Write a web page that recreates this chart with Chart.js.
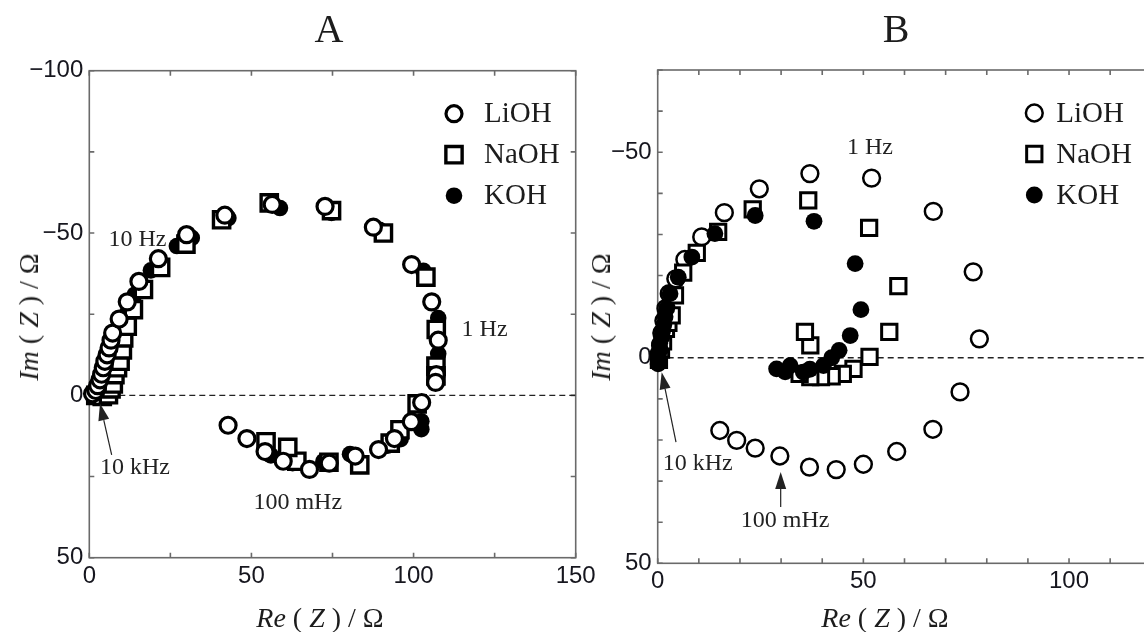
<!DOCTYPE html>
<html>
<head>
<meta charset="utf-8">
<script src="https://cdn.jsdelivr.net/npm/chart.js@4.4.0/dist/chart.umd.min.js"></script>
<style>
  html, body { margin: 0; padding: 0; background: #fff; }
  #wrap { position: relative; width: 1144px; height: 632px; overflow: hidden; background: #fff; }
  canvas { position: absolute; top: 0; }
  #chartA { left: 0; }
  #chartB { left: 590px; }
  .t { position: absolute; font-family: "Liberation Serif", serif; color: #1c1c1c; white-space: nowrap; line-height: 1; }
  .title { font-size: 40px; top: 9px; transform: translateX(-50%); }
  .xlab { font-size: 28px; top: 604px; transform: translateX(-50%); }
  .ylab { font-size: 28px; transform: translate(-50%, -50%) rotate(-90deg); }
</style>
</head>
<body>
<div id="wrap">
  <canvas id="chartA" width="600" height="632" style="width:600px;height:632px"></canvas>
  <canvas id="chartB" width="600" height="632" style="width:600px;height:632px"></canvas>
  <div class="t title" style="left:329px">A</div>
  <div class="t title" style="left:896px">B</div>
  <div class="t xlab" style="left:320px"><i>Re</i> ( <i>Z</i> ) / Ω</div>
  <div class="t xlab" style="left:885px"><i>Re</i> ( <i>Z</i> ) / Ω</div>
  <div class="t ylab" style="left:29px;top:317px"><i>Im</i> ( <i>Z</i> ) / Ω</div>
  <div class="t ylab" style="left:601px;top:317px"><i>Im</i> ( <i>Z</i> ) / Ω</div>
</div>
<script>
// series labels
const seriesNames = ['LiOH', 'NaOH', 'KOH'];

// panel A: Re(Z) / Im(Z) in ohm
const liohAx = [1.0, 2.0, 2.6, 3.3, 3.8, 4.3, 4.8, 5.5, 6.1, 6.7, 7.2, 9.2, 11.7, 15.3, 21.3, 30.0, 41.8, 56.4, 72.7, 87.6, 99.4, 105.6, 107.6, 107.0, 106.8, 102.5, 99.3, 94.1, 89.2, 82.0, 74.0, 67.9, 59.8, 54.2, 48.6, 42.8];
const liohAy = [-0.5, -1.5, -3.0, -4.8, -6.5, -8.5, -10.5, -12.5, -14.6, -17.0, -19.2, -23.5, -28.8, -35.1, -42.1, -49.5, -55.5, -58.8, -58.2, -51.8, -40.3, -28.8, -17.0, -6.4, -4.0, 2.2, 8.1, 13.3, 16.7, 18.7, 20.9, 22.8, 20.3, 17.3, 13.3, 9.2];
const naohAx = [2.0, 4.0, 5.9, 6.7, 7.4, 7.9, 8.7, 9.5, 10.2, 10.6, 11.7, 13.6, 16.7, 22.0, 29.8, 40.8, 55.5, 74.7, 90.7, 103.8, 107.0, 106.9, 106.9, 101.1, 95.8, 92.8, 83.4, 73.9, 64.0, 61.2, 54.5];
const naohAy = [0.0, 0.3, -0.2, -2.0, -3.5, -6.4, -8.5, -10.5, -14.0, -17.7, -21.3, -26.4, -32.6, -39.4, -46.6, -54.1, -59.3, -56.9, -50.0, -36.4, -20.3, -9.0, -6.0, 2.6, 10.6, 14.7, 21.4, 20.6, 20.3, 16.0, 14.3];
const kohAx = [1.5, 3.0, 4.0, 4.8, 5.5, 6.3, 7.2, 8.2, 9.5, 11.5, 14.0, 19.0, 27.0, 31.6, 42.9, 58.8, 74.7, 89.5, 103.0, 107.6, 107.6, 107.4, 102.4, 102.4, 96.0, 92.0, 80.4, 72.2, 62.7, 56.0];
const kohAy = [0.0, 0.0, -1.5, -3.5, -6.0, -9.0, -12.0, -15.5, -19.5, -25.0, -31.0, -38.5, -46.0, -48.5, -54.6, -57.7, -56.2, -51.0, -38.4, -23.8, -12.8, -7.0, 8.0, 10.4, 13.5, 15.5, 18.1, 20.3, 20.9, 18.5];

// panel B
const liohBx = [0.4, 0.7, 1.0, 1.5, 2.0, 2.8, 4.4, 6.6, 10.7, 16.2, 24.7, 37.0, 52.0, 67.0, 76.7, 78.2, 73.5, 66.9, 58.1, 50.0, 43.4, 36.9, 29.7, 23.7, 19.2, 15.1];
const liohBy = [-1.0, -3.0, -6.0, -9.0, -12.0, -15.6, -19.2, -23.9, -29.4, -35.3, -41.1, -44.8, -43.7, -35.6, -20.9, -4.6, 8.3, 17.4, 22.8, 25.9, 27.2, 26.6, 23.9, 22.0, 20.1, 17.7];
const naohBx = [0.3, 0.8, 1.3, 2.0, 2.6, 3.4, 4.2, 6.2, 9.5, 14.7, 23.1, 36.6, 51.4, 58.5, 56.3, 51.5, 47.6, 45.0, 42.3, 39.7, 37.1, 34.5, 37.1, 35.8];
const naohBy = [0.5, -2.0, -4.0, -7.0, -8.5, -10.3, -15.2, -20.7, -25.5, -30.6, -36.1, -38.3, -31.6, -17.4, -6.3, -0.2, 2.7, 3.9, 4.5, 4.7, 4.7, 3.9, -3.0, -6.3];
const kohBx = [0.1, 0.3, 0.5, 0.6, 1.0, 1.2, 1.5, 1.8, 2.2, 3.0, 5.0, 8.3, 13.9, 23.7, 38.0, 48.0, 49.4, 46.8, 44.1, 42.3, 40.3, 37.0, 35.4, 32.2, 28.9, 31.0];
const kohBy = [1.5, 0.0, -3.5, -2.0, -5.0, -6.5, -8.0, -10.0, -12.0, -15.6, -19.6, -24.5, -30.2, -34.6, -33.2, -22.9, -11.7, -5.4, -1.8, 0.0, 1.9, 2.8, 3.5, 1.9, 2.7, 3.4];

// axis ranges and tick steps
const rangeAx = [0, 150], rangeAy = [-100, 50], stepA = 25;
const rangeBx = [0, 120], rangeBy = [-70, 50], stepB = 10;
const labelEvery = 50;

// frequency notes (data coordinates)
const notesA = [
  { text: '10 Hz', x: 5.9, y: -48 },
  { text: '1 Hz', x: 114.8, y: -20.2 },
  { text: '10 kHz', x: 3.3, y: 22.4 },
  { text: '100 mHz', x: 50.6, y: 33.2 }
];
const arrowsA = [{ from: [6.9, 18.3], to: [3.3, 2.5] }];
const notesB = [
  { text: '1 Hz', x: 46, y: -51 },
  { text: '10 kHz', x: 1.2, y: 25.8 },
  { text: '100 mHz', x: 20.2, y: 39.6 }
];
const arrowsB = [
  { from: [4.45, 20.5], to: [0.97, 3.5] },
  { from: [29.9, 36.3], to: [29.9, 27.8] }
];

function zip(xs, ys) {
  return xs.map((v, i) => ({ x: v, y: ys[i] }));
}

function fmt(v) {
  if (v % labelEvery !== 0) return '';
  return v < 0 ? '\u2212' + (-v) : String(v);
}

function drawMarker(ctx, st, x, y) {
  ctx.save();
  ctx.fillStyle = st.backgroundColor;
  ctx.strokeStyle = st.borderColor;
  ctx.lineWidth = st.borderWidth;
  ctx.beginPath();
  if (st.pointStyle === 'rect') {
    const s = Math.SQRT1_2 * st.pointRadius;
    ctx.rect(x - s, y - s, 2 * s, 2 * s);
  } else {
    ctx.arc(x, y, st.pointRadius, 0, Math.PI * 2);
  }
  ctx.fill();
  if (st.borderWidth > 0) ctx.stroke();
  ctx.restore();
}

const frameAndNotes = {
  id: 'frameAndNotes',
  beforeDatasetsDraw(chart) {
    const { ctx, chartArea: a, scales: { x, y } } = chart;
    ctx.save();
    ctx.strokeStyle = '#6a6a6a';
    ctx.lineWidth = 1.6;
    ctx.strokeRect(a.left, a.top, a.right - a.left, a.bottom - a.top);
    const L = 5;
    ctx.beginPath();
    x.ticks.forEach(t => {
      const px = x.getPixelForValue(t.value);
      ctx.moveTo(px, a.bottom); ctx.lineTo(px, a.bottom - L);
      ctx.moveTo(px, a.top); ctx.lineTo(px, a.top + L);
    });
    y.ticks.forEach(t => {
      const py = y.getPixelForValue(t.value);
      ctx.moveTo(a.left, py); ctx.lineTo(a.left + L, py);
      ctx.moveTo(a.right, py); ctx.lineTo(a.right - L, py);
    });
    ctx.stroke();
    ctx.restore();
  },
  afterDatasetsDraw(chart, args, opts) {
    const { ctx, chartArea: a, scales: { x, y } } = chart;
    ctx.save();
    // legend
    const lx = a.right - opts.legendOffset;
    chart.data.datasets.forEach((ds, i) => {
      if (!ds.label) return;
      const ly = a.top + 43 + i * 41;
      drawMarker(ctx, ds, lx, ly);
      ctx.fillStyle = '#1c1c1c';
      ctx.font = '29px "Liberation Serif"';
      ctx.textBaseline = 'middle';
      ctx.textAlign = 'left';
      ctx.fillText(ds.label, lx + opts.legendGap, ly + 1);
    });
    // notes
    ctx.font = '24px "Liberation Serif"';
    ctx.fillStyle = '#222';
    opts.notes.forEach(n => {
      ctx.fillText(n.text, x.getPixelForValue(n.x), y.getPixelForValue(n.y));
    });
    // arrows
    ctx.strokeStyle = '#222';
    ctx.lineWidth = 1.2;
    opts.arrows.forEach(ar => {
      const x0 = x.getPixelForValue(ar.from[0]), y0 = y.getPixelForValue(ar.from[1]);
      const x1 = x.getPixelForValue(ar.to[0]), y1 = y.getPixelForValue(ar.to[1]);
      const ang = Math.atan2(y1 - y0, x1 - x0);
      const hl = 17, hw = 5.5;
      ctx.beginPath();
      ctx.moveTo(x0, y0);
      ctx.lineTo(x1 - Math.cos(ang) * hl, y1 - Math.sin(ang) * hl);
      ctx.stroke();
      ctx.beginPath();
      ctx.moveTo(x1, y1);
      ctx.lineTo(x1 - Math.cos(ang) * hl - Math.sin(ang) * hw, y1 - Math.sin(ang) * hl + Math.cos(ang) * hw);
      ctx.lineTo(x1 - Math.cos(ang) * hl + Math.sin(ang) * hw, y1 - Math.sin(ang) * hl - Math.cos(ang) * hw);
      ctx.closePath();
      ctx.fill();
    });
    ctx.restore();
  }
};

function scale(range, step, reverse, fit, pad) {
  return {
    type: 'linear',
    min: range[0],
    max: range[1],
    reverse: reverse,
    grid: { display: false, drawTicks: false },
    border: { display: false },
    ticks: {
      stepSize: step,
      autoSkip: false,
      maxRotation: 0,
      padding: pad,
      color: '#16161e',
      font: { family: 'Liberation Sans', size: 24 },
      callback: v => fmt(v)
    },
    afterFit: fit
  };
}

function makeChart(id, sets, styles, rx, ry, step, layout, extra) {
  const datasets = sets.map((pts, i) => Object.assign({
    type: 'scatter',
    label: seriesNames[i],
    data: pts,
    borderColor: '#000',
    clip: false
  }, styles[i]));
  datasets.push({
    type: 'line',
    label: '',
    data: [{ x: rx[0], y: 0 }, { x: rx[1], y: 0 }],
    borderColor: '#222',
    borderWidth: 1.3,
    borderDash: [6, 4],
    pointRadius: 0,
    fill: false,
    order: 9
  });
  return new Chart(document.getElementById(id), {
    type: 'scatter',
    data: { datasets },
    options: {
      responsive: false,
      animation: false,
      devicePixelRatio: 1,
      layout: { padding: layout.padding },
      plugins: {
        legend: { display: false },
        tooltip: { enabled: false },
        frameAndNotes: extra
      },
      scales: {
        x: scale(rx, step, false, s => { s.height = layout.xh; }, 4),
        y: scale(ry, step, true, s => { s.width = layout.yw; }, 6)
      }
    },
    plugins: [frameAndNotes]
  });
}

// lower order is drawn on top
const stylesA = [
  { pointStyle: 'circle', pointRadius: 8, borderWidth: 3.2, backgroundColor: '#fff', order: 1 },
  { pointStyle: 'rect', pointRadius: 11.5, borderWidth: 3.4, backgroundColor: '#fff', order: 2 },
  { pointStyle: 'circle', pointRadius: 8.3, borderWidth: 0, backgroundColor: '#000', order: 3 }
];
const stylesB = [
  { pointStyle: 'circle', pointRadius: 8.4, borderWidth: 2.5, backgroundColor: '#fff', order: 3 },
  { pointStyle: 'rect', pointRadius: 10.8, borderWidth: 3.0, backgroundColor: '#fff', order: 2 },
  { pointStyle: 'circle', pointRadius: 8.4, borderWidth: 0, backgroundColor: '#000', order: 1 }
];

makeChart('chartA',
  [zip(liohAx, liohAy), zip(naohAx, naohAy), zip(kohAx, kohAy)],
  stylesA, rangeAx, rangeAy, stepA,
  { padding: { top: 70.7, right: 24.3, left: 0, bottom: 0 }, xh: 74.3, yw: 89.3 },
  { notes: notesA, arrows: arrowsA, legendOffset: 121.7, legendGap: 30 });

makeChart('chartB',
  [zip(liohBx, liohBy), zip(naohBx, naohBy), zip(kohBx, kohBy)],
  stylesB, rangeBx, rangeBy, stepB,
  { padding: { top: 70, right: 38.7, left: 0, bottom: 0 }, xh: 68.7, yw: 67.7 },
  { notes: notesB, arrows: arrowsB, legendOffset: 117, legendGap: 22 });
</script>
</body>
</html>
